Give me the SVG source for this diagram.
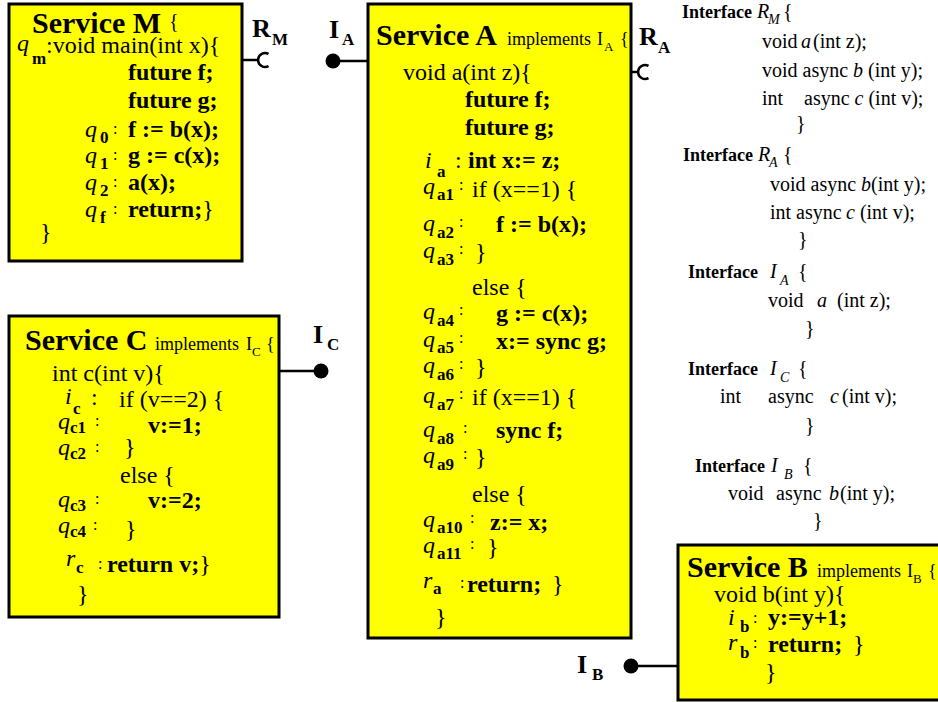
<svg xmlns="http://www.w3.org/2000/svg" width="938" height="702" viewBox="0 0 938 702">
<style>
.box{fill:#ffff00;stroke:#000;stroke-width:3}
text{font-family:"Liberation Serif","Times New Roman",serif;fill:#000}
.t{font-size:30px;font-weight:bold}
.c{font-size:24px}
.b{font-size:24px;font-weight:bold}
.q{font-size:24px;font-style:italic}
.s{font-size:17px;font-weight:bold}
.k{font-size:16px}
.im{font-size:18px}
.ims{font-size:13px}
.lab{font-size:26px;font-weight:bold}
.labs{font-size:17px;font-weight:bold}
.ih{font-size:18px;font-weight:bold}
.in{font-size:20px}
.ii{font-size:20px;font-style:italic}
.is{font-size:14px;font-style:italic}
.wire{stroke:#000;stroke-width:2.5;fill:none}
.ball{fill:#000}
</style>

<!-- Service M -->
<g id="service-m">
  <rect class="box" x="9" y="4" width="233" height="257"/>
  <text class="t" x="32" y="33">Service M</text>
  <text class="in" x="169" y="28">{</text>
  <text class="q" x="17" y="51">q</text><text class="s" x="32" y="64">m</text>
  <text class="c" x="46" y="53">:void main(int x){</text>
  <text class="b" x="128" y="80">future f;</text>
  <text class="b" x="128" y="108">future g;</text>
  <text class="q" x="85" y="137">q</text><text class="s" x="100" y="143">0</text><text class="k" x="113" y="134">:</text>
  <text class="b" x="128" y="137">f := b(x);</text>
  <text class="q" x="85" y="163">q</text><text class="s" x="100" y="169">1</text><text class="k" x="113" y="160">:</text>
  <text class="b" x="128" y="163">g := c(x);</text>
  <text class="q" x="85" y="190">q</text><text class="s" x="100" y="196">2</text><text class="k" x="113" y="187">:</text>
  <text class="b" x="128" y="190">a(x);</text>
  <text class="q" x="85" y="217">q</text><text class="s" x="100" y="223">f</text><text class="k" x="113" y="214">:</text>
  <text class="b" x="128" y="217">return;<tspan class="c" font-weight="normal">}</tspan></text>
  <text class="c" x="40" y="240">}</text>
</g>

<!-- Service A -->
<g id="service-a">
  <rect class="box" x="368" y="4" width="263" height="634"/>
  <text class="t" x="376" y="45">Service A</text>
  <text class="im" x="507" y="45">implements</text>
  <text class="im" x="597" y="45">I</text><text class="ims" x="604" y="51">A</text>
  <text class="im" x="620" y="45">{</text>
  <text class="c" x="403" y="80">void a(int z){</text>
  <text class="b" x="465" y="107">future f;</text>
  <text class="b" x="465" y="135">future g;</text>
  <text class="q" x="425" y="168">i</text><text class="s" x="437" y="177">a</text><text class="c" x="455" y="168">:</text>
  <text class="b" x="468" y="168">int x:= z;</text>
  <text class="q" x="423" y="194">q</text><text class="s" x="437" y="200">a1</text><text class="k" x="459" y="190">:</text>
  <text class="c" x="472" y="197">if (x==1) {</text>
  <text class="q" x="423" y="231">q</text><text class="s" x="437" y="238">a2</text><text class="k" x="459" y="227">:</text>
  <text class="b" x="496" y="232">f := b(x);</text>
  <text class="q" x="423" y="258">q</text><text class="s" x="437" y="265">a3</text><text class="k" x="459" y="254">:</text>
  <text class="c" x="475" y="260">}</text>
  <text class="c" x="472" y="295">else {</text>
  <text class="q" x="423" y="319">q</text><text class="s" x="437" y="326">a4</text><text class="k" x="459" y="315">:</text>
  <text class="b" x="496" y="321">g := c(x);</text>
  <text class="q" x="423" y="347">q</text><text class="s" x="437" y="353">a5</text><text class="k" x="459" y="343">:</text>
  <text class="b" x="496" y="349">x:= sync g;</text>
  <text class="q" x="423" y="373">q</text><text class="s" x="437" y="380">a6</text><text class="k" x="459" y="369">:</text>
  <text class="c" x="475" y="375">}</text>
  <text class="q" x="423" y="403">q</text><text class="s" x="437" y="410">a7</text><text class="k" x="459" y="399">:</text>
  <text class="c" x="472" y="405">if (x==1) {</text>
  <text class="q" x="423" y="437">q</text><text class="s" x="437" y="444">a8</text><text class="k" x="463" y="433">:</text>
  <text class="b" x="496" y="438">sync f;</text>
  <text class="q" x="423" y="463">q</text><text class="s" x="437" y="470">a9</text><text class="k" x="463" y="459">:</text>
  <text class="c" x="475" y="465">}</text>
  <text class="c" x="472" y="502">else {</text>
  <text class="q" x="423" y="527">q</text><text class="s" x="437" y="533">a10</text><text class="k" x="470" y="523">:</text>
  <text class="b" x="490" y="530">z:= x;</text>
  <text class="q" x="423" y="553">q</text><text class="s" x="437" y="559">a11</text><text class="k" x="470" y="549">:</text>
  <text class="c" x="487" y="555">}</text>
  <text class="q" x="423" y="588">r</text><text class="s" x="433" y="594">a</text><text class="k" x="460" y="588">:</text>
  <text class="b" x="467" y="592">return;</text><text class="c" x="552" y="592">}</text>
  <text class="c" x="435" y="625">}</text>
</g>

<!-- Service C -->
<g id="service-c">
  <rect class="box" x="9" y="316" width="270" height="301"/>
  <text class="t" x="25" y="350">Service C</text>
  <text class="im" x="155" y="350">implements</text>
  <text class="im" x="246" y="350">I</text><text class="ims" x="252" y="356">C</text>
  <text class="im" x="266" y="350">{</text>
  <text class="c" x="52" y="381">int c(int v){</text>
  <text class="q" x="65" y="404">i</text><text class="s" x="73" y="414">c</text><text class="c" x="91" y="405">:</text>
  <text class="c" x="119" y="407">if (v==2) {</text>
  <text class="q" x="58" y="429">q</text><text class="s" x="70" y="433">c1</text><text class="k" x="95" y="426">:</text>
  <text class="b" x="148" y="433">v:=1;</text>
  <text class="q" x="58" y="455">q</text><text class="s" x="70" y="459">c2</text><text class="k" x="95" y="452">:</text>
  <text class="c" x="124" y="455">}</text>
  <text class="c" x="120" y="483">else {</text>
  <text class="q" x="58" y="507">q</text><text class="s" x="70" y="511">c3</text><text class="k" x="95" y="504">:</text>
  <text class="b" x="148" y="508">v:=2;</text>
  <text class="q" x="58" y="533">q</text><text class="s" x="70" y="537">c4</text><text class="k" x="93" y="530">:</text>
  <text class="c" x="125" y="537">}</text>
  <text class="q" x="66" y="566">r</text><text class="s" x="76" y="573">c</text><text class="k" x="98" y="569">:</text>
  <text class="b" x="107" y="572">return v;<tspan class="c" font-weight="normal">}</tspan></text>
  <text class="c" x="77" y="602">}</text>
</g>

<!-- Service B -->
<g id="service-b">
  <rect class="box" x="678" y="545" width="270" height="155"/>
  <text class="t" x="687" y="577">Service B</text>
  <text class="im" x="817" y="577">implements</text>
  <text class="im" x="907" y="577">I</text><text class="ims" x="913" y="583">B</text>
  <text class="im" x="928" y="577">{</text>
  <text class="c" x="714" y="602">void b(int y){</text>
  <text class="q" x="728" y="625">i</text><text class="s" x="740" y="632">b</text><text class="k" x="753" y="623">:</text>
  <text class="b" x="768" y="625">y:=y+1;</text>
  <text class="q" x="728" y="650">r</text><text class="s" x="740" y="658">b</text><text class="k" x="753" y="648">:</text>
  <text class="b" x="768" y="652">return;</text><text class="c" x="853" y="652">}</text>
  <text class="c" x="765" y="680">}</text>
</g>

<!-- Interface declarations -->
<g id="interface-rm">
  <text class="ih" x="682" y="18">Interface</text>
  <text class="ii" x="757" y="18">R</text><text class="is" x="768" y="24">M</text><text class="in" x="783" y="18">{</text>
  <text class="in" x="762" y="48">void <tspan class="ii" x="801">a</tspan><tspan dx="2">(int z);</tspan></text>
  <text class="in" x="762" y="77">void async <tspan class="ii">b</tspan> (int y);</text>
  <text class="in" x="762" y="105">int<tspan x="804">async </tspan><tspan class="ii">c</tspan> (int v);</text>
  <text class="in" x="796" y="130">}</text>
</g>
<g id="interface-ra">
  <text class="ih" x="683" y="161">Interface</text>
  <text class="ii" x="758" y="161">R</text><text class="is" x="769" y="167">A</text><text class="in" x="783" y="161">{</text>
  <text class="in" x="770" y="191">void async <tspan class="ii">b</tspan>(int y);</text>
  <text class="in" x="770" y="219">int async<tspan class="ii" x="846">c</tspan> (int v);</text>
  <text class="in" x="798" y="246">}</text>
</g>
<g id="interface-ia">
  <text class="ih" x="688" y="278">Interface</text>
  <text class="ii" x="770" y="278">I</text><text class="is" x="780" y="285">A</text><text class="in" x="798" y="278">{</text>
  <text class="in" x="768" y="307">void<tspan class="ii" x="817">a</tspan><tspan x="837">(int z);</tspan></text>
  <text class="in" x="805" y="335">}</text>
</g>
<g id="interface-ic">
  <text class="ih" x="688" y="375">Interface</text>
  <text class="ii" x="770" y="375">I</text><text class="is" x="780" y="382">C</text><text class="in" x="798" y="375">{</text>
  <text class="in" x="720" y="403">int<tspan x="768">async</tspan><tspan class="ii" x="830">c</tspan><tspan x="842">(int v);</tspan></text>
  <text class="in" x="805" y="432">}</text>
</g>
<g id="interface-ib">
  <text class="ih" x="695" y="472">Interface</text>
  <text class="ii" x="771" y="472">I</text><text class="is" x="784" y="479">B</text><text class="in" x="803" y="472">{</text>
  <text class="in" x="728" y="500">void<tspan x="776">async</tspan><tspan class="ii" x="829">b</tspan><tspan x="840">(int y);</tspan></text>
  <text class="in" x="813" y="527">}</text>
</g>

<!-- Ports: provided interfaces (ball) and required interfaces (socket) -->
<g id="connectors">
  <path class="wire" d="M242 60 H258"/>
  <path class="wire" d="M268.5 53.9 A7 7 0 1 0 268.5 66.1"/>
  <path class="wire" d="M333 61 H368"/>
  <circle class="ball" cx="333" cy="61" r="7.5"/>
  <path class="wire" d="M631 72 H638"/>
  <path class="wire" d="M648.5 65.9 A7 7 0 1 0 648.5 78.1"/>
  <path class="wire" d="M279 371 H321"/>
  <circle class="ball" cx="321" cy="371" r="7.5"/>
  <path class="wire" d="M631 666 H678"/>
  <circle class="ball" cx="631" cy="666" r="7.5"/>
</g>

<g id="port-labels">
  <text class="lab" x="252" y="37">R</text><text class="labs" x="272" y="45">M</text>
  <text class="lab" x="329" y="38">I</text><text class="labs" x="342" y="45">A</text>
  <text class="lab" x="639" y="45">R</text><text class="labs" x="658" y="53">A</text>
  <text class="lab" x="313" y="343">I</text><text class="labs" x="327" y="350">C</text>
  <text class="lab" x="577" y="673">I</text><text class="labs" x="592" y="680">B</text>
</g>
</svg>
